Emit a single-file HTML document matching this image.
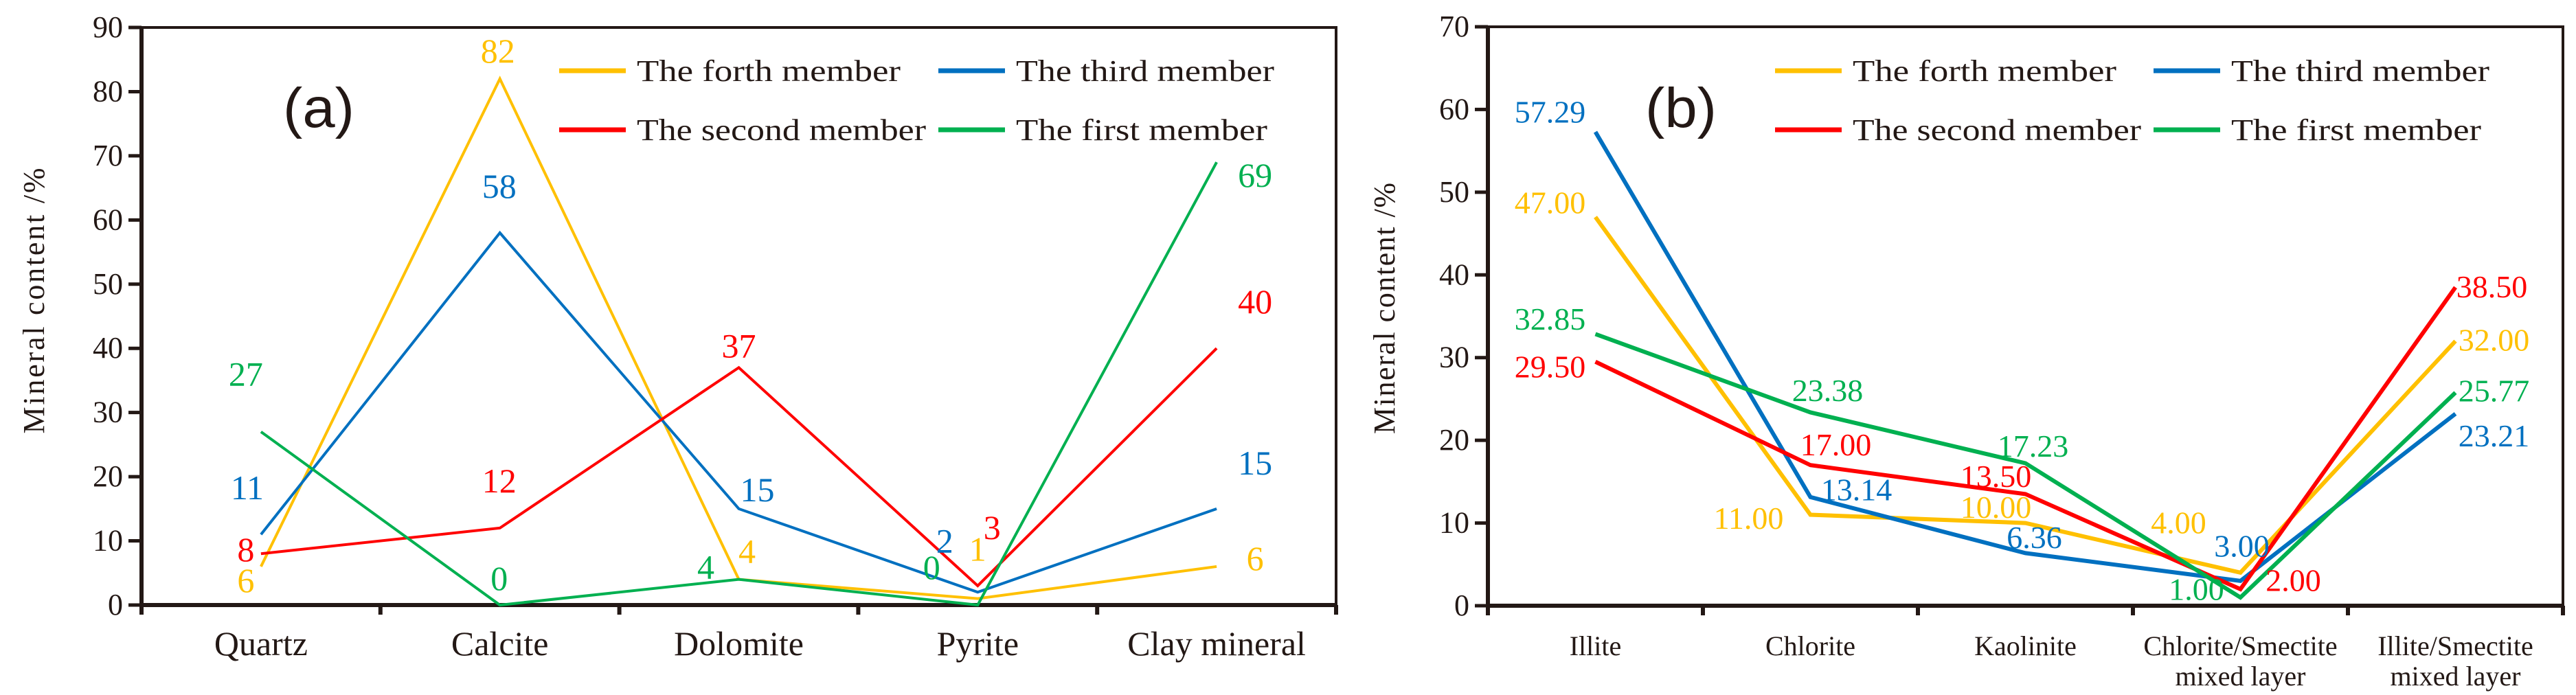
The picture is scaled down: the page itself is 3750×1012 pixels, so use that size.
<!DOCTYPE html>
<html><head><meta charset="utf-8"><style>
html,body{margin:0;padding:0;background:#fff;}
svg{display:block;}
text{font-family:"Liberation Serif",serif;}
</style></head><body>
<svg id="chart" width="3750" height="1012" viewBox="0 0 3750 1012" xmlns="http://www.w3.org/2000/svg"></svg>
<script>
// ---------- Data: panel (a) ----------
const catsA = ["Quartz","Calcite","Dolomite","Pyrite","Clay mineral"];
const forthA = [6,82,4,1,6];
const thirdA = [11,58,15,2,15];
const secondA = [8,12,37,3,40];
const firstA = [27,0,4,0,69];
const ticksA = [0,10,20,30,40,50,60,70,80,90];
// ---------- Data: panel (b) ----------
const catsB = [["Illite"],["Chlorite"],["Kaolinite"],["Chlorite/Smectite","mixed layer"],["Illite/Smectite","mixed layer"]];
const forthB = [47.00,11.00,10.00,4.00,32.00];
const thirdB = [57.29,13.14,6.36,3.00,23.21];
const secondB = [29.50,17.00,13.50,2.00,38.50];
const firstB = [32.85,23.38,17.23,1.00,25.77];
const ticksB = [0,10,20,30,40,50,60,70];
const seriesNames = ["The forth member","The third member","The second member","The first member"];

const NS="http://www.w3.org/2000/svg";
const svg=document.getElementById('chart');
function mk(tag,attrs,parent,txt){const e=document.createElementNS(NS,tag);for(const k in attrs)e.setAttribute(k,attrs[k]);if(txt!==undefined)e.textContent=txt;(parent||svg).appendChild(e);return e;}
const colors=["#FFC000","#0070C0","#FF0000","#00B050"];
const keys=["forth","third","second","first"];

function panel(cfg){
  const g=mk('g',{});
  
  
  const {x0,x1,yTop,yBot,max,cats,series,ticks,dx,dy,fmt,lw,lblSize,catSize}=cfg;
  const slot=(x1-x0)/cats.length;
  const X=i=>x0+slot*(i+0.5);
  const Y=v=>yBot-(v/max)*(yBot-yTop);
  const fr=mk('rect',{x:x0,y:yTop,width:x1-x0,height:yBot-yTop,fill:'none',stroke:'#231815','stroke-width':4},g);
  
  
  const ya=mk('line',{x1:x0,y1:yTop-2,x2:x0,y2:yBot+14,stroke:'#231815','stroke-width':6},g);
  
  
  const xa=mk('line',{x1:x0,y1:yBot,x2:x1,y2:yBot,stroke:'#231815','stroke-width':6},g);
  
  
  ticks.forEach(t=>{
    const y=Y(t);
    const tk=mk('line',{x1:x0-19,y1:y,x2:x0,y2:y,stroke:'#231815','stroke-width':5},g);
    
    
    const tl=mk('text',{x:x0-27,y:y+14,'text-anchor':'end','font-size':44,fill:'#231815'},g,String(t));
    
    
  });
  for(let i=0;i<=cats.length;i++){
    const x=x0+slot*i;
    const tk=mk('line',{x1:x,y1:yBot,x2:x,y2:yBot+14,stroke:'#231815','stroke-width':6},g);
    
    
  }
  cats.forEach((c,i)=>{
    const lines=Array.isArray(c)?c:[c];
    lines.forEach((s,j)=>{
      const t=mk('text',{x:X(i),y:954+j*44,'text-anchor':'middle','font-size':catSize,fill:'#231815'},g,s);
      
      
    });
  });
  series.forEach((vals,si)=>{
    const pts=vals.map((v,i)=>X(i)+','+Y(v)).join(' ');
    const pl=mk('polyline',{points:pts,fill:'none',stroke:colors[si],'stroke-width':lw,'stroke-linejoin':'miter'},g);
    
    
  });
  series.forEach((vals,si)=>{
    vals.forEach((v,i)=>{
      const t=mk('text',{x:X(i)+dx[si][i],y:Y(v)+dy[si][i]+lblSize*0.34,'text-anchor':'middle','font-size':lblSize,fill:colors[si]},g,fmt(v));
      
      
    });
  });
  const lx=cfg.legX, cols=[0,cfg.legCol2];
  seriesNames.forEach((n,si)=>{
    const cx=lx+cols[si%2], cy=si<2?103:189;
    const l=mk('line',{x1:cx,y1:cy,x2:cx+97,y2:cy,stroke:colors[si],'stroke-width':7},g);
    
    
    const t=mk('text',{x:cx+113,y:cy+15,'font-size':44,fill:'#231815',textLength:cfg.legLen[si],lengthAdjust:'spacingAndGlyphs'},g,n);
    
    
  });
  const pt=mk('text',{x:cfg.tagX,y:185,style:'font-family:"Liberation Sans",sans-serif','font-size':82,fill:'#231815',textLength:104,lengthAdjust:'spacingAndGlyphs'},g,cfg.tag);
  
  
  const yt=mk('text',{x:0,y:0,transform:'translate('+cfg.titleX+','+cfg.titleY+') rotate(-90)','text-anchor':'middle','font-size':44,fill:'#231815',textLength:cfg.titleLen,lengthAdjust:'spacing'},g,'Mineral content /%');
  
  
}

panel({id:'a',x0:206,x1:1945,yTop:40,yBot:881,max:90,cats:catsA,series:[forthA,thirdA,secondA,firstA],ticks:ticksA,
  dx:[[-22,-3,12,0,56],[-20,-1,27,-48,56],[-22,-1,0,21,56],[-22,-1,-48,-67,56]],
  dy:[[20,-41,-41,-72,-12],[-68,-68,-28,-75,-67],[-6,-69,-32,-85,-68],[-84,-39,-18,-55,19]],
  fmt:v=>String(v),lw:4,lblSize:50,catSize:50,legX:814,legCol2:552,legLen:[384,376,421,366],tag:'(a)',tagX:412,titleX:64,titleY:438,titleLen:387});
panel({id:'b',x0:2166,x1:3731,yTop:39,yBot:882,max:70,cats:catsB,series:[forthB,thirdB,secondB,firstB],ticks:ticksB,
  dx:[[-66,-90,-43,-90,56],[-66,67,13,2,56],[-66,37,-43,77,53],[-66,25,11,-64,56]],
  dy:[[-21,5,-23,-73,-2],[-29,-11,-23,-51,32],[7,-30,-26,-13,-1],[-22,-32,-25,-12,-3]],
  fmt:v=>v.toFixed(2),lw:6,lblSize:46,catSize:40,legX:2584,legCol2:551,legLen:[384,376,420,364],tag:'(b)',tagX:2395,titleX:2030,titleY:449,titleLen:366});
</script>
</body></html>
